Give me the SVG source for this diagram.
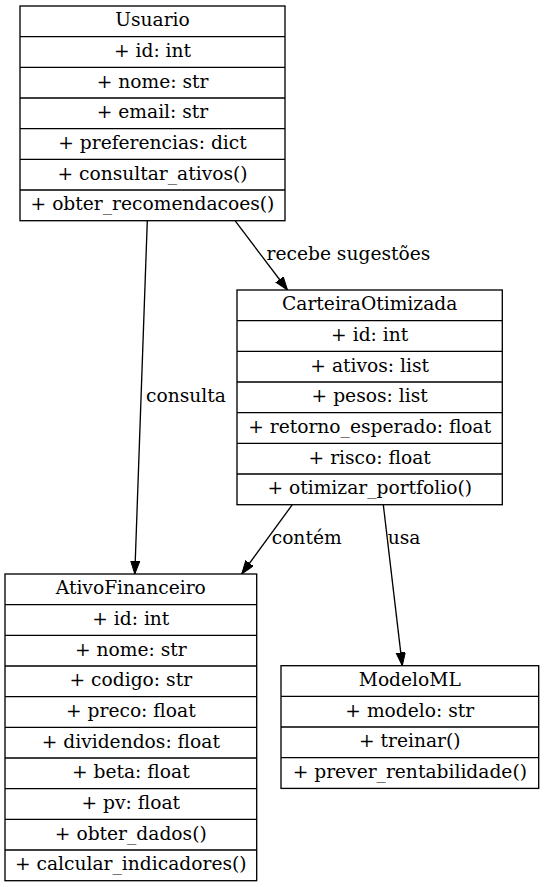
<svg xmlns="http://www.w3.org/2000/svg" width="544" height="887" viewBox="0 0 544 887">
<style>
.box{fill:#fff;stroke:#000;stroke-width:1.33}
.sep{stroke:#000;stroke-width:1.33}
text{font-family:"DejaVu Serif","Liberation Serif",serif;font-size:18.67px;fill:#000}
.c{text-anchor:middle}
.edge{fill:none;stroke:#000;stroke-width:1.33}
</style>
<defs>
<marker id="ah" markerUnits="userSpaceOnUse" markerWidth="14" markerHeight="10" refX="13.3" refY="4.67" orient="auto">
<path d="M0,0 L13.3,4.67 L0,9.33 z" fill="#000" stroke="#000" stroke-width="1"/>
</marker>
</defs>
<rect width="544" height="887" fill="#fff"/>
<g id="edges">
<path class="edge" d="M147.3,220.7 L134.8,574" marker-end="url(#ah)"/>
<path class="edge" d="M235,220.7 L287.5,290" marker-end="url(#ah)"/>
<path class="edge" d="M292.3,504.7 L241.7,574" marker-end="url(#ah)"/>
<path class="edge" d="M383.3,504.7 L402.3,665.7" marker-end="url(#ah)"/>
<text x="266.5" y="259.5">recebe sugestões</text>
<text x="146" y="401.5">consulta</text>
<text x="271.7" y="543.5">contém</text>
<text x="387.7" y="543.5">usa</text>
</g>
<g id="Usuario">
<rect class="box" x="20" y="6" width="265" height="214.7"/>
<path class="sep" d="M20,36.67H285M20,67.33H285M20,98H285M20,128.67H285M20,159.33H285M20,190H285"/>
<text class="c" x="152.5" y="26.4">Usuario</text>
<text class="c" x="152.5" y="57.1">+ id: int</text>
<text class="c" x="152.5" y="87.7">+ nome: str</text>
<text class="c" x="152.5" y="118.4">+ email: str</text>
<text class="c" x="152.5" y="149.1">+ preferencias: dict</text>
<text class="c" x="152.5" y="179.7">+ consultar_ativos()</text>
<text class="c" x="152.5" y="210.4">+ obter_recomendacoes()</text>
</g>
<g id="CarteiraOtimizada">
<rect class="box" x="237" y="290" width="265.3" height="214.7"/>
<path class="sep" d="M237,320.67H502.3M237,351.33H502.3M237,382H502.3M237,412.67H502.3M237,443.33H502.3M237,474H502.3"/>
<text class="c" x="369.7" y="310.4">CarteiraOtimizada</text>
<text class="c" x="369.7" y="341.1">+ id: int</text>
<text class="c" x="369.7" y="371.7">+ ativos: list</text>
<text class="c" x="369.7" y="402.4">+ pesos: list</text>
<text class="c" x="369.7" y="433.1">+ retorno_esperado: float</text>
<text class="c" x="369.7" y="463.7">+ risco: float</text>
<text class="c" x="369.7" y="494.4">+ otimizar_portfolio()</text>
</g>
<g id="AtivoFinanceiro">
<rect class="box" x="5" y="574" width="251.7" height="306.7"/>
<path class="sep" d="M5,604.67H256.7M5,635.33H256.7M5,666H256.7M5,696.67H256.7M5,727.33H256.7M5,758H256.7M5,788.67H256.7M5,819.33H256.7M5,850H256.7"/>
<text class="c" x="130.8" y="594.4">AtivoFinanceiro</text>
<text class="c" x="130.8" y="625.1">+ id: int</text>
<text class="c" x="130.8" y="655.7">+ nome: str</text>
<text class="c" x="130.8" y="686.4">+ codigo: str</text>
<text class="c" x="130.8" y="717.1">+ preco: float</text>
<text class="c" x="130.8" y="747.7">+ dividendos: float</text>
<text class="c" x="130.8" y="778.4">+ beta: float</text>
<text class="c" x="130.8" y="809.1">+ pv: float</text>
<text class="c" x="130.8" y="839.7">+ obter_dados()</text>
<text class="c" x="130.8" y="870.4">+ calcular_indicadores()</text>
</g>
<g id="ModeloML">
<rect class="box" x="281" y="665.7" width="257.7" height="122.7"/>
<path class="sep" d="M281,696.33H538.7M281,727H538.7M281,757.67H538.7"/>
<text class="c" x="409.8" y="686.1">ModeloML</text>
<text class="c" x="409.8" y="716.7">+ modelo: str</text>
<text class="c" x="409.8" y="747.4">+ treinar()</text>
<text class="c" x="409.8" y="778.1">+ prever_rentabilidade()</text>
</g>
</svg>
